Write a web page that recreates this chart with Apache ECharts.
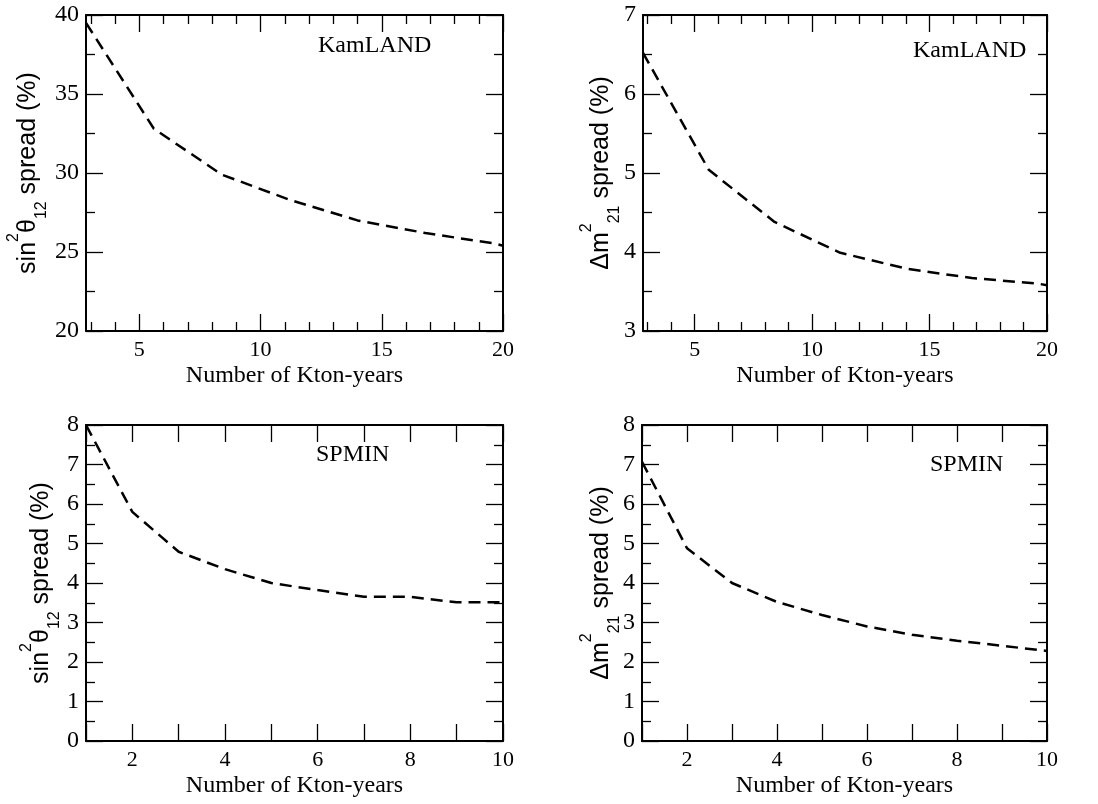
<!DOCTYPE html>
<html>
<head>
<meta charset="utf-8">
<title>Parameter spread vs exposure</title>
<script src="https://cdn.jsdelivr.net/npm/echarts@6/dist/echarts.min.js"></script>
<style>
  html, body { margin: 0; padding: 0; background: #fff; }
  #chart { width: 1098px; height: 804px; }
</style>
</head>
<body>
<div id="chart"></div>
<script>
// KamLAND exposure (kton-years) and spreads (%)
const kamX = [2.8, 5.6, 8.4, 11.2, 14.0, 16.8, 19.6, 20.0];
const kamSin = [39.5, 32.8, 29.9, 28.3, 27.0, 26.2, 25.55, 25.4];
const kamDm = [6.52, 5.04, 4.38, 3.99, 3.79, 3.67, 3.60, 3.58];

// SPMIN exposure (kton-years) and spreads (%)
const spX = [1, 2, 3, 4, 5, 6, 7, 8, 9, 10];
const spSin = [8.0, 5.80, 4.79, 4.35, 4.0, 3.82, 3.65, 3.65, 3.51, 3.51];
const spDm = [7.07, 4.88, 4.0, 3.52, 3.19, 2.90, 2.69, 2.54, 2.41, 2.28];

// x-axis tick positions and labels
const kamMajorTicks = [5, 10, 15, 20];
const kamMinorTicks = [3, 4, 6, 7, 8, 9, 11, 12, 13, 14, 16, 17, 18, 19];
const kamTickLabels = [5, 10, 15, 20];
const spTicks = [1, 2, 3, 4, 5, 6, 7, 8, 9, 10];
const spTickLabels = [2, 4, 6, 8, 10];

const xTitle = 'Number of Kton-years';
const panelTags = ['KamLAND', 'KamLAND', 'SPMIN', 'SPMIN'];

const SERIF = 'Liberation Serif, Times New Roman, serif';
const SANS = 'Liberation Sans, Arial, sans-serif';
const INK = '#000';

const grids = [
  { left: 86, top: 15, width: 417, height: 316 },
  { left: 643, top: 15, width: 404, height: 316 },
  { left: 86, top: 425, width: 417, height: 316 },
  { left: 642, top: 425, width: 405, height: 316 }
];

const lineW = { color: INK, width: 2 };
const tickW = { color: INK, width: 1.3 };

function xAxisSet(gi, min, max, majors, minors, labels) {
  const axes = [];
  // bottom axis carrying the labels and long ticks
  axes.push({
    type: 'value', gridIndex: gi, min: min, max: max, position: 'bottom',
    axisLine: { show: true, onZero: false, lineStyle: lineW },
    axisTick: { show: true, inside: true, length: 17, customValues: majors, lineStyle: tickW },
    axisLabel: { show: true, customValues: labels, color: INK, fontFamily: SERIF, fontSize: 22, margin: 8 },
    splitLine: { show: false },
    name: xTitle, nameLocation: 'middle', nameGap: 33,
    nameTextStyle: { color: INK, fontFamily: SERIF, fontSize: 24 }
  });
  // top mirror
  axes.push({
    type: 'value', gridIndex: gi, min: min, max: max, position: 'top',
    axisLine: { show: true, onZero: false, lineStyle: lineW },
    axisTick: { show: true, inside: true, length: 17, customValues: majors, lineStyle: tickW },
    axisLabel: { show: false }, splitLine: { show: false }
  });
  if (minors) {
    ['bottom', 'top'].forEach(function (pos) {
      axes.push({
        type: 'value', gridIndex: gi, min: min, max: max, position: pos,
        axisLine: { show: false, onZero: false },
        axisTick: { show: true, inside: true, length: 9, customValues: minors, lineStyle: tickW },
        axisLabel: { show: false }, splitLine: { show: false }
      });
    });
  }
  return axes;
}

function yAxisSet(gi, min, max, interval) {
  const common = {
    type: 'value', gridIndex: gi, min: min, max: max, interval: interval,
    axisLine: { show: true, onZero: false, lineStyle: lineW },
    axisTick: { show: true, inside: true, length: 17, lineStyle: tickW },
    minorTick: { show: true, splitNumber: 2, length: 9, lineStyle: tickW },
    splitLine: { show: false }, minorSplitLine: { show: false }
  };
  return [
    Object.assign({}, common, {
      position: 'left',
      axisLabel: { show: true, color: INK, fontFamily: SERIF, fontSize: 24, margin: 7 }
    }),
    Object.assign({}, common, { position: 'right', axisLabel: { show: false } })
  ];
}

const xAxes = [];
const xMain = [];
[
  [0, 2.8, 20, kamMajorTicks, kamMinorTicks, kamTickLabels],
  [1, 2.8, 20, kamMajorTicks, kamMinorTicks, kamTickLabels],
  [2, 1, 10, spTicks, null, spTickLabels],
  [3, 1, 10, spTicks, null, spTickLabels]
].forEach(function (a) {
  xMain.push(xAxes.length);
  Array.prototype.push.apply(xAxes, xAxisSet.apply(null, a));
});

const yAxes = [];
const yMain = [];
[
  [0, 20, 40, 5],
  [1, 3, 7, 1],
  [2, 0, 8, 1],
  [3, 0, 8, 1]
].forEach(function (a) {
  yMain.push(yAxes.length);
  Array.prototype.push.apply(yAxes, yAxisSet.apply(null, a));
});

function zip(xs, ys) { return xs.map(function (x, i) { return [x, ys[i]]; }); }

const curves = [zip(kamX, kamSin), zip(kamX, kamDm), zip(spX, spSin), zip(spX, spDm)];

const series = curves.map(function (d, i) {
  return {
    type: 'line', xAxisIndex: xMain[i], yAxisIndex: yMain[i], data: d,
    symbol: 'none', smooth: false, clip: true, silent: true,
    lineStyle: { color: INK, width: 2.5, type: [12, 7] }
  };
});

// y-axis titles with super/subscripts
const yRich = {
  m: { fontFamily: SANS, fontSize: 25, lineHeight: 44, verticalAlign: 'middle', fill: INK },
  sup: { fontFamily: SANS, fontSize: 16, lineHeight: 16, verticalAlign: 'top', fill: INK },
  sub: { fontFamily: SANS, fontSize: 16, lineHeight: 16, verticalAlign: 'bottom', fill: INK }
};
const sinTitle = '{m|sin}{sup|2}{m|θ}{sub|12}{m| spread (%)}';
const dmTitle = '{m|Δm}{sup|2}{sub|21}{m| spread (%)}';

function yTitle(text, x, y) {
  return {
    type: 'text', x: x, y: y, rotation: Math.PI / 2, silent: true,
    style: { text: text, rich: yRich, align: 'center', verticalAlign: 'middle', fill: INK }
  };
}

function tag(text, x, y) {
  return {
    type: 'text', x: x, y: y, silent: true,
    style: { text: text, fontFamily: SERIF, fontSize: 24, fill: INK, align: 'left', verticalAlign: 'middle' }
  };
}

const chart = echarts.init(document.getElementById('chart'), null, { renderer: 'canvas' });
chart.setOption({
  backgroundColor: '#fff',
  animation: false,
  grid: grids,
  xAxis: xAxes,
  yAxis: yAxes,
  series: series,
  graphic: [
    yTitle(sinTitle, 28, 173),
    yTitle(dmTitle, 601, 173),
    yTitle(sinTitle, 41, 583),
    yTitle(dmTitle, 601, 583),
    tag(panelTags[0], 318, 46),
    tag(panelTags[1], 913, 51),
    tag(panelTags[2], 316, 455),
    tag(panelTags[3], 930, 465)
  ]
});
</script>
</body>
</html>
